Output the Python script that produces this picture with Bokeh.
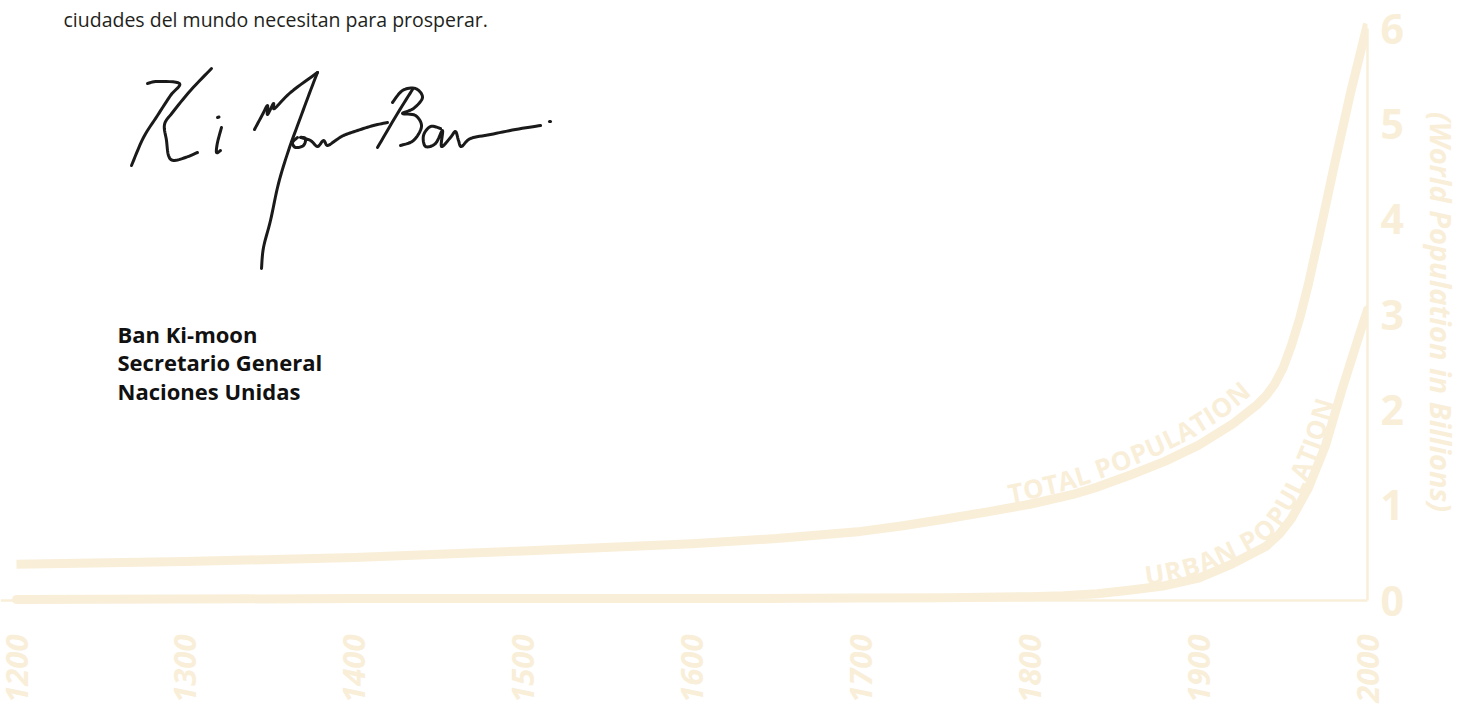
import math
import numpy as np
from bokeh.plotting import figure
from bokeh.models import Label, FixedTicker, LinearAxis, Range1d, Span
from bokeh.core.properties import value
from bokeh.embed import file_html
from bokeh.resources import INLINE

# ---------------- data ----------------
years_total = [1200, 1300, 1400, 1500, 1600, 1650, 1700, 1725, 1750, 1775, 1800, 1825,
               1840, 1860, 1880, 1900, 1920, 1935, 1940, 1945, 1950, 1955, 1960, 1965,
               1972, 1981, 1990, 2000]
total_pop = [0.38, 0.41, 0.45, 0.52, 0.595, 0.65, 0.725, 0.785, 0.855, 0.93, 1.01, 1.11,
             1.19, 1.32, 1.46, 1.63, 1.85, 2.06, 2.15, 2.27, 2.44, 2.68, 2.97, 3.32,
             3.88, 4.62, 5.33, 6.05]
years_urban = [1200, 1400, 1600, 1700, 1750, 1800, 1820, 1840, 1860, 1880, 1900, 1920,
               1940, 1948, 1955, 1965, 1975, 1985, 1995, 2000]
urban_pop = [0.01, 0.02, 0.02, 0.025, 0.03, 0.04, 0.05, 0.07, 0.11, 0.155, 0.235, 0.385,
             0.57, 0.70, 0.86, 1.18, 1.62, 2.22, 2.78, 3.05]
x_ticks = [1200, 1300, 1400, 1500, 1600, 1700, 1800, 1900, 2000]
y_ticks = [0, 1, 2, 3, 4, 5, 6]
total_label = "TOTAL POPULATION"
urban_label = "URBAN POPULATION"
y_title = "(World Population in Billions)"
intro_text = "ciudades del mundo necesitan para prosperar."
sign_lines = ["Ban Ki-moon", "Secretario General", "Naciones Unidas"]

# ---------------- layout constants ----------------
CREAM = "#F9EED8"
INK = "#231F20"
FRAME_W, FRAME_H = 1367, 623
SX = (1367 - 16) / 800.0            # px per year
X0 = 1200 - 16 / SX
X1 = 2000
SY = 95.3                           # px per billion
Y1 = 600 / SY
Y0 = Y1 - FRAME_H / SY


def dx(ref_x):
    return X0 + ref_x / SX


def dy(ref_y):
    return (600 - ref_y) / SY


p = figure(frame_width=FRAME_W, frame_height=FRAME_H,
           x_range=Range1d(X0, X1), y_range=Range1d(Y0, Y1),
           output_backend="svg", toolbar_location=None,
           x_axis_location=None, y_axis_location=None,
           min_border_left=0, min_border_top=0,
           min_border_right=1463 - FRAME_W, min_border_bottom=704 - FRAME_H,
           outline_line_color=None,
           background_fill_color="white", border_fill_color="white")
p.xgrid.grid_line_color = None
p.ygrid.grid_line_color = None

xaxis = LinearAxis(ticker=FixedTicker(ticks=x_ticks),
                   axis_line_color=None, major_tick_line_color=None,
                   minor_tick_line_color=None,
                   major_label_orientation=math.pi / 2,
                   major_label_text_font="Open Sans",
                   major_label_text_font_style="bold italic",
                   major_label_text_font_size="31px",
                   major_label_text_color=CREAM,
                   major_label_standoff=5)
p.add_layout(xaxis, "below")

yaxis = LinearAxis(ticker=FixedTicker(ticks=y_ticks), bounds=(0, 6),
                   axis_line_color=CREAM, axis_line_width=2.5,
                   major_tick_line_color=None, minor_tick_line_color=None,
                   major_label_text_font="Open Sans",
                   major_label_text_font_style="bold",
                   major_label_text_font_size="41px",
                   major_label_text_color=CREAM,
                   major_label_standoff=7,
                   axis_label=y_title,
                   axis_label_text_font="Open Sans",
                   axis_label_text_font_style="bold italic",
                   axis_label_text_font_size="29px",
                   axis_label_text_color=CREAM,
                   axis_label_standoff=15)
p.add_layout(yaxis, "right")

p.add_layout(Span(location=0, dimension="width", line_color=CREAM, line_width=2.5))

p.line(years_total, total_pop, line_width=9, line_color=CREAM,
       line_cap="butt", line_join="round")
p.line(years_urban, urban_pop, line_width=9, line_color=CREAM,
       line_cap="round", line_join="round")

# ---------------- text following a curve ----------------
CHAR_W = {"T": 0.56, "O": 0.79, "A": 0.69, "L": 0.55, "P": 0.64, "U": 0.74,
          "I": 0.34, "N": 0.80, "R": 0.67, "B": 0.68, " ": 0.26}


def curve_text(xs, ys, text, start_ref_x, off0, off1, size_px, spacing):
    fx = (np.asarray(xs, float) - X0) * SX
    fy = (np.asarray(ys, float) - Y0) * SY
    seg = np.hypot(np.diff(fx), np.diff(fy))
    s = np.concatenate([[0], np.cumsum(seg)])
    ss = np.arange(0, s[-1], 0.5)
    cx = np.interp(ss, s, fx)
    cy = np.interp(ss, s, fy)
    n = len(ss)
    k = 30
    tx = np.empty(n)
    ty = np.empty(n)
    for i in range(n):
        j0, j1 = max(i - k, 0), min(i + k, n - 1)
        vx, vy = cx[j1] - cx[j0], cy[j1] - cy[j0]
        L = math.hypot(vx, vy) or 1.0
        tx[i], ty[i] = vx / L, vy / L
    i0 = int(np.argmax(cx >= start_ref_x))
    widths = [CHAR_W[c] * size_px for c in text]
    total_len = sum(widths) + spacing * (len(text) - 1)
    offs = off0 + (off1 - off0) * np.clip((ss - ss[i0]) / total_len, 0, 1)
    ox = cx - ty * offs
    oy = cy + tx * offs
    os_ = np.concatenate([[0], np.cumsum(np.hypot(np.diff(ox), np.diff(oy)))])
    cur = os_[i0]
    out_x, out_y, out_a, out_t = [], [], [], []
    for ch, w in zip(text, widths):
        c = cur + w / 2
        idx = min(int(np.searchsorted(os_, c)), n - 1)
        if ch != " ":
            out_x.append(X0 + ox[idx] / SX)
            out_y.append(Y0 + oy[idx] / SY)
            out_a.append(math.atan2(ty[idx], tx[idx]))
            out_t.append(ch)
        cur += w + spacing
    return out_x, out_y, out_a, out_t


for xs, ys, txt, sx0, o0, o1 in [
        (years_total, total_pop, total_label, 1010, 14, 21),
        (years_urban, urban_pop, urban_label, 1146, 13, 14)]:
    tx_, ty_, ta_, tt_ = curve_text(xs, ys, txt, sx0, o0, o1, 26, 0.3)
    p.text(x=tx_, y=ty_, text=tt_, angle=ta_, text_align="center",
           text_baseline="alphabetic", text_font=value("Open Sans"),
           text_font_style="bold", text_font_size="26px", text_color=CREAM)

# ---------------- page text ----------------
p.add_layout(Label(x=dx(63), y=dy(19), text=intro_text, text_align="left",
                   text_baseline="alphabetic", text_font="Open Sans",
                   text_font_size="19.5px", text_color=INK))
for i, line in enumerate(sign_lines):
    p.add_layout(Label(x=dx(117), y=dy(333 + 28.5 * i), text=line, text_align="left",
                       text_baseline="alphabetic", text_font="Open Sans",
                       text_font_style="bold", text_font_size="22px", text_color="#111111"))

# ---------------- handwritten signature (decorative strokes, page pixels) ----------------
SIGNATURE_STROKES = [
    [(147, 83), (157, 81), (179, 83), (170, 95), (157, 115), (143, 137), (131, 165)],
    [(211, 68), (190, 90), (172, 112), (164, 124), (166, 140), (168, 155), (173, 160),
     (185, 157), (197, 152)],
    [(221, 127), (217, 142), (216, 152), (220, 150)],
    [(217, 117), (218.5, 116.5)],
    [(254, 129), (262, 114), (267, 105), (267, 114), (273, 103), (274, 108), (290, 92),
     (317, 72)],
    [(317, 72), (310, 90), (300, 117), (288, 150), (278, 183), (270, 220), (263, 247),
     (261, 268)],
    [(297, 137), (292, 142), (295, 147), (303, 145), (305, 138), (300, 137), (310, 140),
     (317, 146), (323, 140), (327, 145), (335, 140), (343, 135), (357, 130), (373, 125),
     (387, 122)],
    [(412, 89), (397, 113), (377, 147)],
    [(392, 102), (402, 90), (415, 88), (422, 97), (413, 108), (402, 113), (415, 115),
     (421, 126), (413, 140), (400, 145)],
    [(440, 128), (430, 126), (423, 135), (425, 146), (435, 143), (442, 130), (441, 146),
     (450, 137), (455, 131), (458, 140), (461, 146), (470, 138), (490, 134), (515, 129),
     (540, 125)],
    [(549, 121), (550, 121)],
]


def catmull(pts, n=8):
    pts = np.asarray(pts, float)
    if len(pts) < 3:
        return pts
    P = np.vstack([pts[0], pts, pts[-1]])
    out = []
    for i in range(1, len(P) - 2):
        p0, p1, p2, p3 = P[i - 1], P[i], P[i + 1], P[i + 2]
        for t in np.linspace(0, 1, n, endpoint=False):
            t2, t3 = t * t, t * t * t
            out.append(0.5 * (2 * p1 + (-p0 + p2) * t + (2 * p0 - 5 * p1 + 4 * p2 - p3) * t2
                              + (-p0 + 3 * p1 - 3 * p2 + p3) * t3))
    out.append(pts[-1])
    return np.array(out)


sig_xs, sig_ys = [], []
for stroke in SIGNATURE_STROKES:
    pts = catmull(stroke)
    sig_xs.append([dx(a) for a in pts[:, 0]])
    sig_ys.append([dy(b) for b in pts[:, 1]])
p.multi_line(sig_xs, sig_ys, line_color="#1A1A1A", line_width=3,
             line_cap="round", line_join="round")

open("out.html", "w").write(file_html(p, INLINE))
